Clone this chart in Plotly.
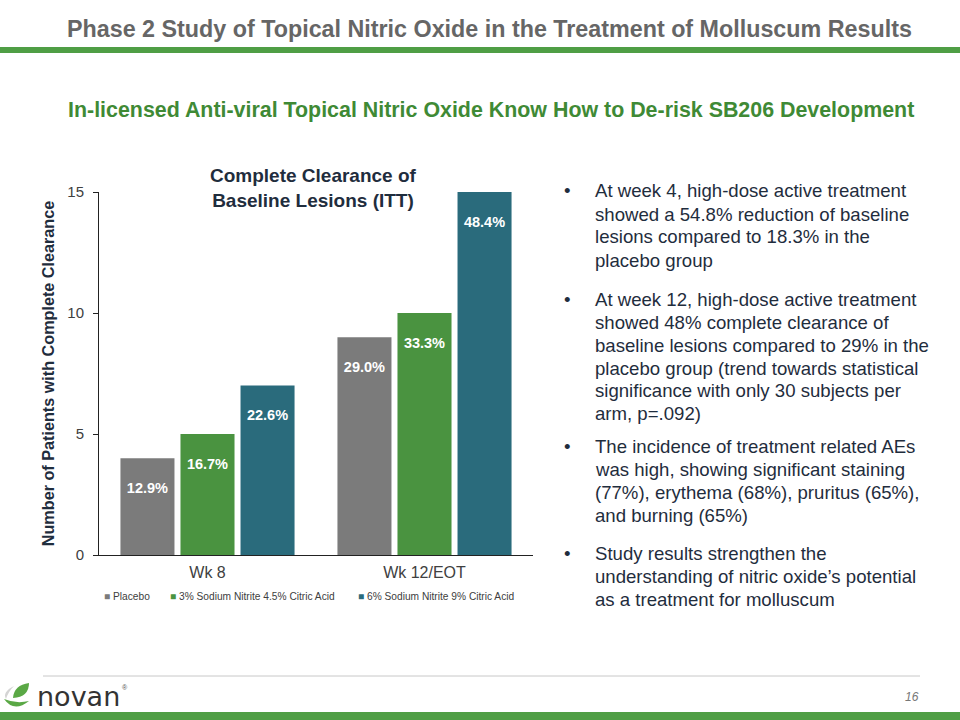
import plotly.graph_objects as go

W, H = 960, 720

categories = ["Wk 8", "Wk 12/EOT"]
series_names = ["Placebo", "3% Sodium Nitrite 4.5% Citric Acid", "6% Sodium Nitrite 9% Citric Acid"]
placebo = [4, 9]
low_dose = [5, 10]
high_dose = [7, 15]
placebo_pct = ["12.9%", "29.0%"]
low_pct = ["16.7%", "33.3%"]
high_pct = ["22.6%", "48.4%"]
colors = ["#7b7b7b", "#4a9340", "#2a6b7c"]
y_ticks = [0, 5, 10, 15]

title = "Phase 2 Study of Topical Nitric Oxide in the Treatment of Molluscum Results"
subtitle = "In-licensed Anti-viral Topical Nitric Oxide Know How to De-risk SB206 Development"
chart_title = "Complete Clearance of<br>Baseline Lesions (ITT)"
y_title = "Number of Patients with Complete Clearance"

bullets = [
    ["At week 4, high-dose active treatment", "showed a 54.8% reduction of baseline",
     "lesions compared to 18.3% in the", "placebo group"],
    ["At week 12, high-dose active treatment", "showed 48% complete clearance of",
     "baseline lesions compared to 29% in the", "placebo group (trend towards statistical",
     "significance with only 30 subjects per", "arm, p=.092)"],
    ["The incidence of treatment related AEs", "was high, showing significant staining",
     "(77%), erythema (68%), pruritus (65%),", "and burning (65%)"],
    ["Study results strengthen the", "understanding of nitric oxide\u2019s potential",
     "as a treatment for molluscum"],
]
bullet_start_y = [191, 299, 446, 553]
line_step = 23
legend_x = [102, 168, 356]

FONT = "Liberation Sans, Arial, sans-serif"


def px(x):
    return x / W


def py(y):
    return 1 - y / H


fig = go.Figure()
for name, vals, pcts, col in zip(series_names, [placebo, low_dose, high_dose],
                                 [placebo_pct, low_pct, high_pct], colors):
    fig.add_trace(go.Bar(
        x=categories, y=vals, name=name, marker=dict(color=col, line=dict(width=0)),
        text=[" <br>" + p for p in pcts], textposition="inside", insidetextanchor="end",
        textfont=dict(family=FONT, size=14.5, color="white", weight="bold"),
        textangle=0, constraintext="none", hoverinfo="skip",
    ))

fig.update_layout(
    width=W, height=H, margin=dict(l=0, r=0, t=0, b=0, autoexpand=False),
    paper_bgcolor="white", plot_bgcolor="white",
    barmode="group", bargap=0.17, bargroupgap=0.1,
    font=dict(family=FONT, color="#404040"),
    showlegend=False,
    xaxis=dict(domain=[px(99), px(533)], showline=True, linecolor="#222222", linewidth=1,
               ticks="", tickfont=dict(size=16, color="#404040"), showgrid=False,
               automargin=False, ticklabelstandoff=3),
    yaxis=dict(domain=[py(555), py(192)], range=[0, 15], tickvals=y_ticks,
               showline=True, linecolor="#222222", linewidth=1, ticks="outside",
               ticklen=5, tickcolor="#222222", showgrid=False, zeroline=False,
               tickfont=dict(size=15, color="#404040"), automargin=False,
               ticklabelstandoff=6,
               title=dict(text=y_title, font=dict(size=16.2, color="#1f2d3d", weight="bold"),
                          standoff=8)),
)

shapes = [
    dict(type="rect", xref="paper", yref="paper", x0=0, x1=1, y0=py(53), y1=py(47),
         fillcolor="#4f9e45", line=dict(width=0)),
    dict(type="line", xref="paper", yref="paper", x0=px(43), x1=px(920), y0=py(676), y1=py(676),
         line=dict(color="#c8c8c8", width=1)),
    dict(type="rect", xref="paper", yref="paper", x0=0, x1=1, y0=0, y1=py(712),
         fillcolor="#4f9e45", line=dict(width=0)),
    # logo leaf (upper)
    dict(type="path", xref="paper", yref="paper",
         path=f"M {px(13)},{py(698)} Q {px(14)},{py(685)} {px(29)},{py(683)} Q {px(29)},{py(697)} {px(13)},{py(698)} Z",
         fillcolor="#5aa845", line=dict(width=0)),
    # logo grey crescent
    dict(type="path", xref="paper", yref="paper",
         path=f"M {px(14)},{py(686)} Q {px(2)},{py(692)} {px(6)},{py(699)} Q {px(8)},{py(692)} {px(14)},{py(686)} Z",
         fillcolor="#d4d4d4", line=dict(width=0)),
    # logo bowl
    dict(type="path", xref="paper", yref="paper",
         path=f"M {px(4)},{py(699)} Q {px(14)},{py(713)} {px(29)},{py(701)} Q {px(16)},{py(704)} {px(4)},{py(699)} Z",
         fillcolor="#5aa845", line=dict(width=0)),
]
fig.update_layout(shapes=shapes)

ann = [
    dict(text=f"<b>{title}</b>", x=px(490), y=py(29), font=dict(size=23.3, color="#666666")),
    dict(text=f"<b>{subtitle}</b>", x=px(491), y=py(110), font=dict(size=21.4, color="#3f8a35")),
    dict(text=f"<b>{chart_title}</b>", x=px(313), y=py(188), font=dict(size=19, color="#1f2d3d")),
    dict(text="novan", x=px(35), y=py(696), xanchor="left",
         font=dict(size=27, color="#333333", family="DejaVu Sans, sans-serif")),
    dict(text="\u00ae", x=px(120), y=py(687), xanchor="left", font=dict(size=7, color="#555555")),
    dict(text="<i>16</i>", x=px(912), y=py(697), font=dict(size=12, color="#777777")),
]
for name, col, lx in zip(series_names, colors, legend_x):
    ann.append(dict(text=f"<span style='color:{col}'>\u25a0</span> {name}", x=px(lx), y=py(596),
                    xanchor="left", font=dict(size=10.2, color="#404040")))
for start, lines in zip(bullet_start_y, bullets):
    ann.append(dict(text="\u2022", x=px(567), y=py(start), font=dict(size=18.6, color="#1f2d3d")))
    for i, line in enumerate(lines):
        ann.append(dict(text=line, x=px(593), y=py(start + i * line_step), xanchor="left",
                        font=dict(size=18.6, color="#1f2d3d")))

for a in ann:
    a.setdefault("xanchor", "center")
    a.update(xref="paper", yref="paper", yanchor="middle", showarrow=False)
    a["font"].setdefault("family", FONT)
fig.update_layout(annotations=ann)

fig.write_html("out.html", config={"displayModeBar": False},
               post_script="document.body.style.margin='0';")
